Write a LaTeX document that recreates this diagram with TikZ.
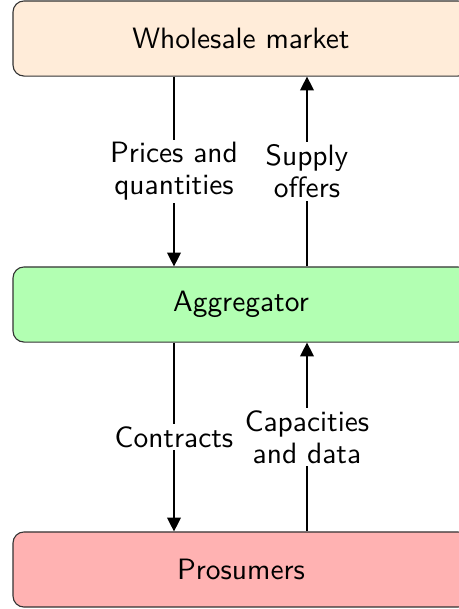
\documentclass[tikz,border=0pt]{standalone}
\usetikzlibrary{arrows.meta}
\begin{document}
\begin{tikzpicture}[x=0.3636pt,y=-0.3636pt,font=\sffamily\fontsize{10.7}{11.7}\selectfont,
				box/.style={draw=black!80,rounded corners=4pt,minimum width=165.8pt,minimum height=27.3pt},
				lbl/.style={fill=white,align=center,inner sep=1pt},
				flow/.style={-{Triangle[length=5pt,width=5pt]}}]
\useasboundingbox (0,0) rectangle (459,609);
\node[box,fill=orange!15] (wm) at (241,38.5) {Wholesale market};
\node[box,fill=green!30] (ag) at (241,304.5) {Aggregator};
\node[box,fill=red!30] (pr) at (241,569.5) {Prosumers};
\coordinate (l) at (174,0);
\coordinate (r) at (307,0);
% market <-> aggregator
\draw[flow] (wm.south -| l) -- node[lbl] {Prices and\\quantities} (ag.north -| l);
\draw[flow] (ag.north -| r) -- node[lbl] {Supply\\offers} (wm.south -| r);
% aggregator <-> prosumers
\draw[flow] (ag.south -| l) -- node[lbl] {Contracts} (pr.north -| l);
\draw[flow] (pr.north -| r) -- node[lbl] {Capacities\\and data} (ag.south -| r);
\end{tikzpicture}
\end{document}
